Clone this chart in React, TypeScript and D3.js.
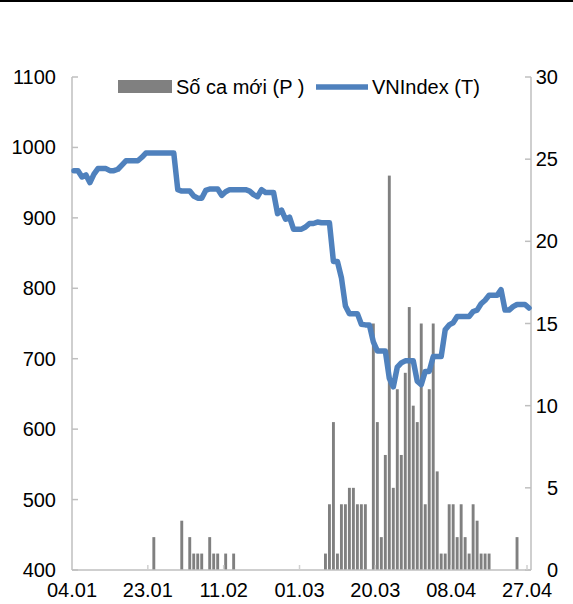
import React from "react";
import * as d3 from "d3";

const YEAR = 2020;
const axisStart = "04.01";
const axisDays = 115;
const xTickLabels = ["04.01", "23.01", "11.02", "01.03", "20.03", "08.04", "27.04"];
const leftTicks = [400, 500, 600, 700, 800, 900, 1000, 1100];
const rightTicks = [0, 5, 10, 15, 20, 25, 30];

const caseDates = [
  "24.01", "31.01", "02.02", "03.02", "04.02", "05.02", "07.02", "08.02", "09.02", "11.02", "13.02",
  "07.03", "08.03", "09.03", "10.03", "11.03", "12.03", "13.03", "14.03", "15.03", "16.03", "17.03",
  "19.03", "20.03", "21.03", "22.03", "23.03", "24.03", "25.03", "26.03", "27.03", "28.03", "29.03",
  "30.03", "31.03", "01.04", "02.04", "03.04", "04.04", "05.04", "06.04", "07.04", "08.04", "09.04",
  "10.04", "11.04", "12.04", "13.04", "14.04", "15.04", "16.04", "17.04", "24.04",
];
const caseCounts = [
  2, 3, 2, 1, 1, 1, 2, 1, 1, 1, 1,
  1, 4, 9, 1, 4, 4, 5, 5, 4, 4, 4,
  15, 9, 2, 7, 24, 5, 11, 7, 12, 16, 10,
  9, 15, 4, 11, 15, 6, 1, 1, 4, 4, 2,
  4, 2, 1, 4, 3, 1, 1, 1, 2,
];

// VNIndex, one value per calendar day from 04.01 (non-trading days repeat the last close)
const vnIndexStart = "04.01";
const vnIndexDaily = [
  967, 967, 958, 961, 950, 962, 970, 970, 970, 967, 967, 969, 975, 981, 981, 981, 981, 986, 992,
  992, 992, 992, 992, 992, 992, 992, 940, 938, 938, 938, 931, 928, 928, 939, 941, 941, 941, 932,
  937, 940, 940, 940, 940, 940, 938, 933, 930, 940, 936, 936, 936, 906, 911, 898, 901, 884, 884,
  884, 887, 892, 892, 894, 893, 893, 893, 838, 838, 815, 775, 764, 764, 764, 749, 748, 748, 724,
  711, 711, 711, 672, 660, 688, 694, 697, 697, 697, 668, 663, 682, 682, 703, 703, 703, 741, 748,
  751, 760, 760, 760, 760, 767, 769, 778, 783, 790, 790, 790, 798, 769, 769, 774, 777, 777, 777, 772,
];

const legendBars = "Số ca mới (P )";
const legendLine = "VNIndex (T)";

const W = 573;
const H = 604;
const FONT = "'Liberation Sans', Arial, sans-serif";

function parseDay(s: string): Date {
  const [d, m] = s.split(".").map(Number);
  return new Date(YEAR, m - 1, d);
}
const origin = parseDay(axisStart);
const dayIndex = (s: string) => d3.timeDay.count(origin, parseDay(s));

export default function App() {
  const left = 72, right = 531, top = 77, bottom = 570;
  const x = d3.scaleLinear().domain([0, axisDays]).range([left, right]);
  const yL = d3.scaleLinear().domain([400, 1100]).range([bottom, top]);
  const yR = d3.scaleLinear().domain([0, 30]).range([bottom, top]);

  const vnStart = dayIndex(vnIndexStart);
  const lineData = vnIndexDaily.map((v, i) => ({ i: vnStart + i, v }));
  const line = d3
    .line<{ i: number; v: number }>()
    .x((d) => x(d.i + 0.5))
    .y((d) => yL(d.v));

  const barW = 2.9;
  const axisColor = "#BFBFBF";

  return (
    <svg width={W} height={H} style={{ position: "absolute", left: 0, top: 0, background: "#fff" }} fontFamily={FONT}>
      <rect x={0} y={0} width={W} height={H} fill="#fff" />
      <line x1={0} x2={W} y1={1} y2={1} stroke="#000" strokeWidth={2} />

      {/* bars */}
      {caseDates.map((d, k) => {
        const i = dayIndex(d);
        return (
          <rect
            key={d}
            x={x(i + 0.5) - barW / 2}
            y={yR(caseCounts[k])}
            width={barW}
            height={yR(0) - yR(caseCounts[k])}
            fill="#808080"
          />
        );
      })}

      {/* axes */}
      <line x1={left} x2={left} y1={top} y2={bottom} stroke={axisColor} strokeWidth={1.5} />
      <line x1={right} x2={right} y1={top} y2={bottom} stroke={axisColor} strokeWidth={1.5} />
      <line x1={left} x2={right} y1={bottom} y2={bottom} stroke={axisColor} strokeWidth={1.5} />
      {leftTicks.map((t) => (
        <g key={"l" + t}>
          <line x1={left} x2={left + 6} y1={yL(t)} y2={yL(t)} stroke={axisColor} strokeWidth={1.5} />
          <text x={56} y={yL(t)} dy="0.35em" textAnchor="end" fontSize={20} fill="#000">
            {t}
          </text>
        </g>
      ))}
      {rightTicks.map((t) => (
        <g key={"r" + t}>
          <line x1={right - 6} x2={right} y1={yR(t)} y2={yR(t)} stroke={axisColor} strokeWidth={1.5} />
          <text x={558} y={yR(t)} dy="0.35em" textAnchor="end" fontSize={20} fill="#000">
            {t}
          </text>
        </g>
      ))}
      {xTickLabels.map((lbl) => {
        const i = dayIndex(lbl);
        return (
          <g key={"x" + lbl}>
            {i > 0 && (
              <line x1={x(i)} x2={x(i)} y1={bottom} y2={bottom - 5} stroke="#D0D0D0" strokeWidth={1.5} />
            )}
            <text x={x(i)} y={597} textAnchor="middle" fontSize={20} fill="#000">
              {lbl}
            </text>
          </g>
        );
      })}

      {/* line */}
      <path d={line(lineData) || ""} fill="none" stroke="#4F81BD" strokeWidth={5.5} strokeLinejoin="round" strokeLinecap="round" />

      {/* legend */}
      <rect x={118} y={80} width={54} height={13} fill="#808080" />
      <text x={176} y={87} dy="0.35em" fontSize={20} fill="#000">
        {legendBars}
      </text>
      <line x1={316} x2={368} y1={87} y2={87} stroke="#4F81BD" strokeWidth={5.5} />
      <text x={372} y={87} dy="0.35em" fontSize={20} fill="#000">
        {legendLine}
      </text>
    </svg>
  );
}
